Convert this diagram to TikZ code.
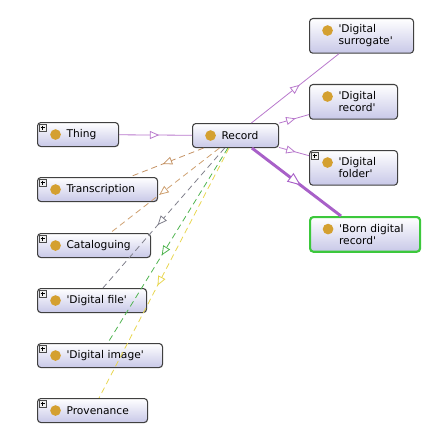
\documentclass[tikz,border=0pt]{standalone}
\usepackage{fontspec}
\setmainfont{DejaVu Sans}[Ligatures=TeXOff]
\usetikzlibrary{arrows.meta,decorations.markings}

\definecolor{boxc}{RGB}{200,200,232}
\definecolor{dotc}{RGB}{212,160,48}
\definecolor{lilac}{RGB}{184,120,204}
\definecolor{lilacdk}{RGB}{168,96,200}
\definecolor{bornc}{RGB}{60,200,60}
\definecolor{brownA}{RGB}{196,146,100}
\definecolor{brownB}{RGB}{206,160,112}
\definecolor{greyA}{RGB}{128,128,140}
\definecolor{greenA}{RGB}{80,180,80}
\definecolor{yellowA}{RGB}{232,214,80}

\begin{document}
\begin{tikzpicture}[x=0.75pt, y=-0.75pt,
  cls/.style={draw=black!75, line width=0.8pt, rounded corners=2.5pt, top color=white, bottom color=boxc,
    anchor=north west, inner xsep=0pt, inner ysep=2pt, minimum height=18pt, text width=#1*0.75pt,
    font=\fontsize{8}{9}\selectfont,
    execute at begin node={\leftskip=21.75pt\rightskip=0pt plus 1fil\hyphenpenalty=10000},
    path picture={\fill[dotc] ([shift={(18,12)}]path picture bounding box.north west) circle (4pt);}},
  two/.style={minimum height=26pt},
  pbox/.style={draw=black!70, fill=black!6, line width=0.4pt},
  isa/.style={draw=lilac, line width=0.6pt, postaction=decorate,
    decoration={markings, mark=at position 0.55 with {\arrow{Triangle[length=7pt, width=6pt, fill=white]}}}},
  bigisa/.style={draw=lilacdk, line width=2.2pt, postaction=decorate,
    decoration={markings, mark=at position 0.55 with {\arrow{Triangle[length=10pt, width=8pt, line width=0.7pt, fill=white]}}}},
  rel/.style={isa, draw=#1, dash pattern=on 4.5pt off 3pt}
]
\useasboundingbox (0,0) rectangle (448,431);

% classes
\node[cls=81] (thing) at (37,122) {Thing};
\node[cls=86] (record) at (192,123) {Record};
\node[cls=120] (transcr) at (37,177) {Transcription};
\node[cls=113] (catal) at (37,233) {Cataloguing};
\node[cls=109] (dfile) at (37,288) {'Digital file'};
\node[cls=125] (dimage) at (37,343) {'Digital image'};
\node[cls=110] (prov) at (37,398) {Provenance};
\node[cls=104, two] (dsurr) at (309,18) {'Digital\\surrogate'};
\node[cls=88, two] (drec) at (309,84) {'Digital\\record'};
\node[cls=88, two] (dfold) at (309,150) {'Digital\\folder'};
\node[cls=110, two, draw=bornc, line width=1.6pt] (born) at (309,216) {'Born digital\\record'};

% expand boxes
\foreach \n in {thing,transcr,catal,dfile,dimage,prov,dfold}{
  \draw[pbox] ([shift={(2,2)}]\n.north west) rectangle ++(7,7);
  \draw[line width=0.5pt] ([shift={(3.5,5.5)}]\n.north west) -- ++(4,0)
    ([shift={(5.5,3.5)}]\n.north west) -- ++(0,4);
}

% subclass links
\draw[isa] (thing) -- (record);
\draw[isa] (record) -- (dsurr);
\draw[isa] (record) -- (drec);
\draw[isa] (record) -- (dfold);
\draw[bigisa] (record) -- (born);

% properties
\draw[rel=brownA] (record) -- (transcr);
\draw[rel=brownB] (record) -- (catal);
\draw[rel=greyA] (record) -- (dfile);
\draw[rel=greenA] (record) -- (dimage);
\draw[rel=yellowA] (record) -- (prov);
\end{tikzpicture}
\end{document}
